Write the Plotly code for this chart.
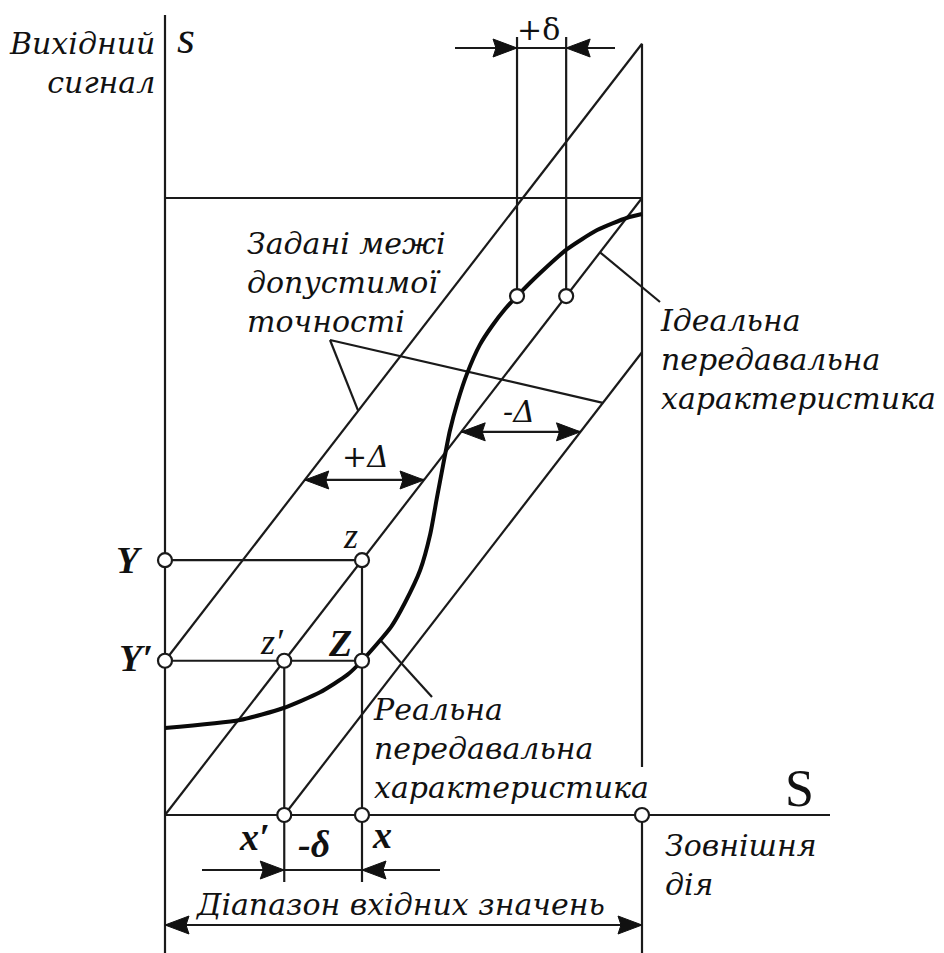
import plotly.graph_objects as go

# ---------------- characteristic data (normalised input X, output Y) ----------------
real_x = [0.000, 0.157, 0.247, 0.325, 0.382, 0.413, 0.474, 0.503, 0.535, 0.556, 0.570,
          0.583, 0.597, 0.614, 0.633, 0.660, 0.686, 0.713, 0.738, 0.786, 0.843, 0.906,
          0.969, 1.000]
real_y = [0.141, 0.154, 0.173, 0.199, 0.227, 0.250, 0.305, 0.344, 0.397, 0.455, 0.514,
          0.567, 0.622, 0.671, 0.715, 0.762, 0.793, 0.820, 0.841, 0.878, 0.917, 0.948,
          0.968, 0.974]
ideal_x = [0.0, 1.0]
ideal_y = [0.0, 1.0]

tolerance = 0.25          # ±Δ band around the ideal characteristic
out_Y = 0.413             # output level Y (point z on the ideal line)
out_Y_prime = 0.25        # output level Y′
in_x_prime = 0.25         # ideal input x′ giving Y′ (point z′)
in_x = 0.413              # real input x giving Y′ (point Z)
top_level = 0.841         # level of the +δ construction
top_real_x = 0.738        # real characteristic at that level
top_ideal_x = 0.841       # ideal characteristic at that level
delta_plus_level = 0.543  # level of the +Δ dimension
delta_minus_level = 0.621 # level of the -Δ dimension

# ---------------- canvas / scale ----------------
W, H = 944, 953
X0_PX, Y0_PX = 165, 815   # pixel position of the origin
PX_X, PX_Y = 477, 617     # pixels per unit along each axis
x_range = [-X0_PX / PX_X, (W - X0_PX) / PX_X]
y_range = [-(H - Y0_PX) / PX_Y, Y0_PX / PX_Y]


def dx(px):
    return (px - X0_PX) / PX_X


def dy(py):
    return (Y0_PX - py) / PX_Y


LINE = "#1a1a1a"
INK = "#111111"
TEXT_FONT = "DejaVu Serif"
SYM_FONT = "Liberation Serif"

fig = go.Figure()


def add_segments(segs, width=2.2, color=LINE):
    xs, ys = [], []
    for (x1, y1), (x2, y2) in segs:
        xs += [x1, x2, None]
        ys += [y1, y2, None]
    fig.add_trace(go.Scatter(x=xs, y=ys, mode="lines", hoverinfo="skip",
                             line=dict(color=color, width=width)))


def upper(x):
    return x + tolerance


def lower(x):
    return x - tolerance


def real_at(x):
    for i in range(len(real_x) - 1):
        if real_x[i] <= x <= real_x[i + 1]:
            t = (x - real_x[i]) / (real_x[i + 1] - real_x[i])
            return real_y[i] + t * (real_y[i + 1] - real_y[i])
    return real_y[-1]


lead_real_x = dx(380)

segments = [
    # axes and range limits
    ((0, dy(15)), (0, dy(H))),
    ((0, 0), (dx(830), 0)),
    ((1, upper(1)), (1, dy(767))),
    ((1, 0), (1, dy(H))),
    ((0, 1), (1, 1)),
    # tolerance bounds and ideal characteristic
    ((0, upper(0)), (1, upper(1))),
    ((ideal_x[0], ideal_y[0]), (ideal_x[1], ideal_y[1])),
    ((tolerance, lower(tolerance)), (1, lower(1))),
    # construction lines
    ((0, out_Y), (out_Y, out_Y)),
    ((0, out_Y_prime), (in_x, out_Y_prime)),
    ((in_x_prime, out_Y_prime), (in_x_prime, dy(882))),
    ((in_x, out_Y), (in_x, dy(882))),
    ((top_real_x, top_level), (top_real_x, dy(37))),
    ((top_ideal_x, top_level), (top_ideal_x, dy(37))),
    # dimension lines
    ((dx(455), dy(48)), (dx(615), dy(48))),
    ((delta_plus_level - tolerance, delta_plus_level), (delta_plus_level, delta_plus_level)),
    ((delta_minus_level, delta_minus_level), (delta_minus_level + tolerance, delta_minus_level)),
    ((dx(202), dy(870)), (dx(440), dy(870))),
    ((0, dy(925)), (1, dy(925))),
    # leader lines
    ((dx(330), dy(340)), (0.405, upper(0.405))),
    ((dx(330), dy(340)), (0.918, lower(0.918))),
    ((0.912, 0.912), (dx(660), dy(302))),
    ((lead_real_x, real_at(lead_real_x)), (dx(432), dy(697))),
]
add_segments(segments)

# real characteristic (thick S-curve)
fig.add_trace(go.Scatter(x=real_x, y=real_y, mode="lines", hoverinfo="skip",
                         line=dict(color="#0a0a0a", width=4, shape="spline", smoothing=0.6)))

# arrowheads
HEAD_LEN, HEAD_HALF, HEAD_NOTCH = 24, 9, 3


def heads(specs):
    xs, ys = [], []
    for tx, ty, d in specs:
        L = HEAD_LEN / PX_X
        N = HEAD_NOTCH / PX_X
        w = HEAD_HALF / PX_Y
        xs += [tx, tx - d * L, tx - d * (L - N), tx - d * L, tx, None]
        ys += [ty, ty + w, ty, ty - w, ty, None]
    fig.add_trace(go.Scatter(x=xs, y=ys, mode="lines", fill="toself", hoverinfo="skip",
                             fillcolor="#111", line=dict(color="#111", width=1)))


heads([
    (top_real_x, dy(48), +1), (top_ideal_x, dy(48), -1),
    (delta_plus_level - tolerance, delta_plus_level, -1), (delta_plus_level, delta_plus_level, +1),
    (delta_minus_level, delta_minus_level, -1), (delta_minus_level + tolerance, delta_minus_level, +1),
    (in_x_prime, dy(870), +1), (in_x, dy(870), -1),
    (0, dy(925), -1), (1, dy(925), +1),
])

# marked points
pts_x = [0, out_Y, 0, in_x_prime, in_x, in_x_prime, in_x, 1, top_real_x, top_ideal_x]
pts_y = [out_Y, out_Y, out_Y_prime, out_Y_prime, out_Y_prime, 0, 0, 0, top_level, top_level]
fig.add_trace(go.Scatter(x=pts_x, y=pts_y, mode="markers", hoverinfo="skip",
                         marker=dict(size=14, color="white", line=dict(color=LINE, width=2.2))))

# ---------------- text ----------------
annotations = []
ASC, DESC, LH = 0.939, 0.236, 1.3   # DejaVu Serif ascent / descent, plotly line height


def block(lines, px, first_baseline, size=30, anchor="left", italic=True, family=TEXT_FONT):
    n = len(lines)
    cy = first_baseline + ((n - 1) * LH - (ASC - DESC)) * size / 2
    annotations.append(dict(
        text="<br>".join(lines), xref="paper", yref="paper", x=px / W, y=1 - cy / H,
        xanchor=anchor, yanchor="middle", align=anchor, showarrow=False,
        font=dict(family=family, size=size, color=INK,
                  style="italic" if italic else "normal")))


def symbol(text, px, baseline, size, anchor="left", italic=True, bold=False):
    cy = baseline - 0.34 * size
    annotations.append(dict(
        text=text, xref="paper", yref="paper", x=px / W, y=1 - cy / H,
        xanchor=anchor, yanchor="middle", showarrow=False,
        font=dict(family=SYM_FONT, size=size, color=INK,
                  style="italic" if italic else "normal",
                  weight="bold" if bold else "normal")))


def point_label(text, X, Y, xoff, base_off, anchor, size=38, italic=True, bold=True):
    annotations.append(dict(
        text=text, xref="x", yref="y", x=X, y=Y,
        xshift=xoff, yshift=-(base_off - 0.34 * size),
        xanchor=anchor, yanchor="middle", showarrow=False,
        font=dict(family=SYM_FONT, size=size, color=INK,
                  style="italic" if italic else "normal",
                  weight="bold" if bold else "normal")))


block(["Вихідний", "сигнал"], 157, 54, anchor="right")
block(["Задані межі", "допустимої", "точності"], 245, 254)
block(["Ідеальна", "передавальна", "характеристика"], 658, 331)
block(["Реальна", "передавальна", "характеристика"], 371, 720)
block(["Зовнішня", "дія"], 663, 856)
block(["Діапазон вхідних значень"], 193, 915)
block(["+Δ"], 340, 467)
block(["-Δ"], 501, 422)
block(["+δ"], 515, 40, italic=False)

symbol("s", 175, 53, 46)
symbol("S", 783, 806, 52, italic=False)
symbol("-δ", 296, 857, 38, bold=True)

point_label("Y", 0, out_Y, -20, 13, "right")
point_label("Y′", 0, out_Y_prime, -10, 10, "right")
point_label("z", out_Y, out_Y, -2, -12, "right", size=36, bold=False)
point_label("z′", in_x_prime, out_Y_prime, 2, -7, "right", size=36, bold=False)
point_label("Z", in_x, out_Y_prime, -8, -5, "right")
point_label("x′", in_x_prime, 0, -12, 35, "right")
point_label("x", in_x, 0, 8, 33, "left")

fig.update_layout(
    width=W, height=H, margin=dict(l=0, r=0, t=0, b=0),
    paper_bgcolor="white", plot_bgcolor="white", showlegend=False,
    xaxis=dict(range=x_range, visible=False, fixedrange=True),
    yaxis=dict(range=y_range, visible=False, fixedrange=True),
    annotations=annotations,
)

fig.write_html("out.html", config={"displayModeBar": False})
